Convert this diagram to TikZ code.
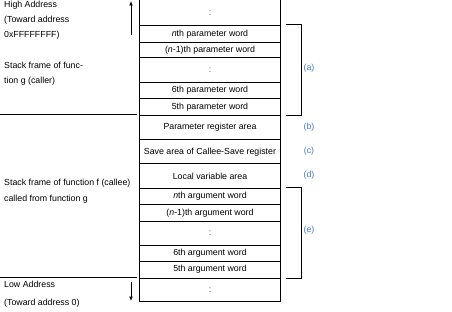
\documentclass[tikz,border=0pt]{standalone}
\usepackage{fontspec}
\setmainfont{Liberation Sans}
\usetikzlibrary{arrows.meta,calc}
\definecolor{lblblue}{RGB}{70,120,215}
\definecolor{dotcol}{RGB}{70,55,150}
\begin{document}
\begin{tikzpicture}[x=1pt,y=-1pt,
  every node/.style={font=\fontsize{8.8}{10}\selectfont, inner sep=0pt},
  cell/.style={draw, line width=1pt, minimum width=141.4pt, anchor=north},
  cellnd/.style={minimum width=141.4pt, anchor=north},
  lbl/.style={text=lblblue},
  side/.style={anchor=base west},
  brk/.style={line width=1pt},
  arr/.style={line width=1pt, -{Latex[length=4.5pt,width=4pt]}}]
\useasboundingbox (0,0) rectangle (452,312);
% rows
\node[cellnd, minimum height=25pt] (r1) at (210,0) {\textcolor{dotcol}{:}};
\draw[line width=1pt] (r1.north west) -- (r1.south west) -- (r1.south east) -- (r1.north east);
\node[cell, minimum height=16.7pt] (r2) at (210,25) {\emph{n}th parameter word};
\node[cell, minimum height=15.6pt] (r3) at (210,41.7) {(\emph{n}-1)th parameter word};
\node[cell, minimum height=24.4pt] (r4) at (210,57.3) {\textcolor{dotcol}{:}};
\node[cell, minimum height=16.6pt] (r5) at (210,81.7) {6th parameter word};
\node[cell, minimum height=16.7pt] (r6) at (210,98.3) {5th parameter word};
\node[cell, minimum height=24.3pt] (r7) at (210,115) {Parameter register area};
\node[cell, minimum height=24pt] (r8) at (210,139.3) {Save area of Callee-Save register};
\node[cell, minimum height=24.4pt] (r9) at (210,163.3) {Local variable area};
\node[cell, minimum height=16.3pt] (r10) at (210,187.7) {\emph{n}th argument word};
\node[cell, minimum height=16.7pt] (r11) at (210,204) {(\emph{n}-1)th argument word};
\node[cell, minimum height=24.3pt] (r12) at (210,220.7) {\textcolor{dotcol}{:}};
\node[cell, minimum height=15.7pt] (r13) at (210,245) {6th argument word};
\node[cell, minimum height=17pt] (r14) at (210,260.7) {5th argument word};
\node[cell, minimum height=23.3pt] (r15) at (210,277.7) {\textcolor{dotcol}{:}};
% brackets
\draw[brk] ([xshift=4.5pt]r2.north east) -- ++(15.5,0) coordinate (ta) |- ([xshift=4.5pt]r6.south east);
\draw[brk] ([xshift=4.5pt]r10.north east) -- ++(15.5,0) coordinate (te) |- ([xshift=4.5pt]r14.south east);
% labels
\node[lbl] (la) at (309,68.5) {(a)};
\node[lbl] (lb) at (309,127.3) {(b)};
\node[lbl] (lc) at (309,151) {(c)};
\node[lbl] (ld) at (309,175) {(d)};
\node[lbl] (le) at (309,230) {(e)};
% left texts
\node[side] (h1) at (4,7.5) {High Address};
\node[side] (h2) at (4,22.7) {(Toward address};
\node[side] (h3) at (4,37.9) {0xFFFFFFFF)};
\node[side] (g1) at (4,68.7) {Stack frame of func-};
\node[side] (g2) at (4,83.9) {tion g (caller)};
\node[side] (f1) at (4,185.3) {Stack frame of function f (callee)};
\node[side] (f2) at (4,201.8) {called from function g};
\node[side] (l1) at (4,287.7) {Low Address};
\node[side] (l2) at (4,305.3) {(Toward address 0)};
% separators
\coordinate (s1a) at (0,115); \coordinate (s1b) at (137,115);
\coordinate (s2a) at (0,277.7); \coordinate (s2b) at (137,277.7);
\draw[line width=1pt] (s1a) -- (s1b);
\draw[line width=1pt] (s2a) -- (s2b);
% arrows
\coordinate (ua) at (131,35); \coordinate (ub) at (131,1);
\coordinate (da) at (131,282); \coordinate (db) at (131,301);
\draw[arr] (ua) -- (ub);
\draw[arr] (da) -- (db);
\end{tikzpicture}
\end{document}
